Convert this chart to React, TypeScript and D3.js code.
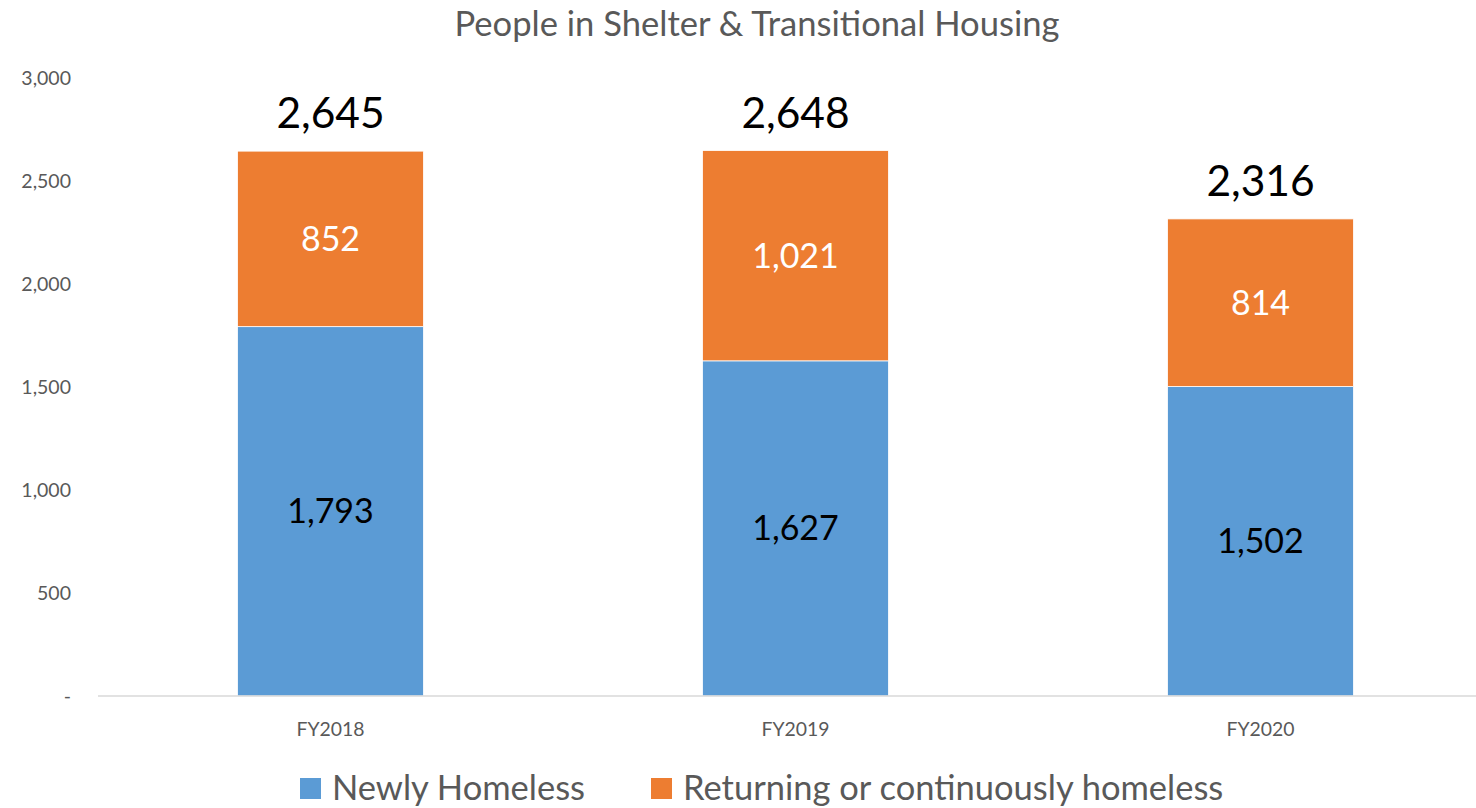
import React from "react";
import * as d3 from "d3";

const years = ["FY2018", "FY2019", "FY2020"];
const newlyHomeless = [1793, 1627, 1502];
const returning = [852, 1021, 814];
const totals = [2645, 2648, 2316];
const yTicks = [0, 500, 1000, 1500, 2000, 2500, 3000];
const seriesNames = ["Newly Homeless", "Returning or continuously homeless"];
const colors = ["#5b9bd5", "#ed7d31"];

const FONT = "Lato, 'Open Sans', sans-serif";
const fmt = d3.format(",");

const App = () => {
  const ref = React.useRef<SVGSVGElement>(null);
  const width = 1476;
  const height = 808;

  React.useEffect(() => {
    const svg = d3.select(ref.current);
    svg.selectAll("*").remove();

    const xScale = d3.scaleBand(years, [98, 1493]).paddingInner(0.6).paddingOuter(0.3);
    const yScale = d3.scaleLinear([0, 3000], [696, 78]);

    // title
    svg.append("text")
      .attr("x", 757).attr("y", 36)
      .attr("text-anchor", "middle")
      .attr("font-size", 34.6).attr("fill", "#595959")
      .text("People in Shelter & Transitional Housing");

    // y tick labels
    svg.append("g").selectAll("text")
      .data(yTicks)
      .enter().append("text")
        .attr("x", 71)
        .attr("y", d => yScale(d) + 7)
        .attr("text-anchor", "end")
        .attr("font-size", 19.5).attr("fill", "#595959")
        .text(d => d === 0 ? "-" : fmt(d));

    // stacked bars
    const rows = years.map((y, i) => ({ year: y, newly: newlyHomeless[i], returning: returning[i] }));
    const stacked = d3.stack<any>().keys(["newly", "returning"])(rows);
    svg.append("g").selectAll("g")
      .data(stacked)
      .enter().append("g")
        .attr("fill", (_, i) => colors[i])
        .selectAll("rect")
        .data(d => d)
        .enter().append("rect")
          .attr("x", d => xScale(d.data.year)!)
          .attr("y", d => yScale(d[1]))
          .attr("width", xScale.bandwidth())
          .attr("height", d => yScale(d[0]) - yScale(d[1]))
          .attr("stroke", "#ffffff").attr("stroke-width", 0.8);

    // axis line
    svg.append("line")
      .attr("x1", 98).attr("x2", width)
      .attr("y1", 696).attr("y2", 696)
      .attr("stroke", "#d9d9d9").attr("stroke-width", 1.5);

    // segment labels
    stacked.forEach((layer, li) => {
      svg.append("g").selectAll("text")
        .data(layer)
        .enter().append("text")
          .attr("x", d => xScale(d.data.year)! + xScale.bandwidth() / 2)
          .attr("y", d => (yScale(d[0]) + yScale(d[1])) / 2 + 12)
          .attr("text-anchor", "middle")
          .attr("font-size", 34)
          .attr("fill", li === 0 ? "#000000" : "#ffffff")
          .text(d => fmt(d[1] - d[0]));
    });

    // totals
    svg.append("g").selectAll("text")
      .data(totals)
      .enter().append("text")
        .attr("x", (_, i) => xScale(years[i])! + xScale.bandwidth() / 2)
        .attr("y", d => yScale(d) - 23)
        .attr("text-anchor", "middle")
        .attr("font-size", 42.5).attr("fill", "#000000")
        .text(d => fmt(d));

    // x labels
    svg.append("g").selectAll("text")
      .data(years)
      .enter().append("text")
        .attr("x", d => xScale(d)! + xScale.bandwidth() / 2)
        .attr("y", 736)
        .attr("text-anchor", "middle")
        .attr("font-size", 19.4).attr("fill", "#595959")
        .text(d => d);

    // legend
    const legendX = [300, 651];
    const legend = svg.append("g").selectAll("g")
      .data(seriesNames)
      .enter().append("g")
        .attr("transform", (_, i) => `translate(${legendX[i]},0)`);
    legend.append("rect")
      .attr("x", 0).attr("y", 778)
      .attr("width", 21).attr("height", 21)
      .attr("fill", (_, i) => colors[i]);
    legend.append("text")
      .attr("x", 32).attr("y", 800)
      .attr("font-size", 34.5).attr("fill", "#595959")
      .text(d => d);
  }, []);

  return (
    <svg
      ref={ref}
      width={width}
      height={height}
      style={{ position: "absolute", left: 0, top: 0, fontFamily: FONT, background: "#fff" }}
    />
  );
};

export default App;
